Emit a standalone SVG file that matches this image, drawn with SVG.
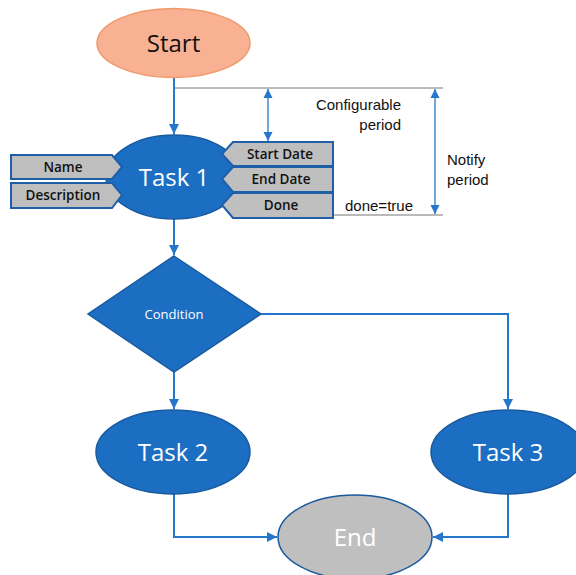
<svg xmlns="http://www.w3.org/2000/svg" width="576" height="575" viewBox="0 0 576 575">
<defs>
<style>
.task{fill:#1B6EC2;stroke:#1A5A9E;stroke-width:1.5}
.tl{font-family:"Open Sans","Liberation Sans",sans-serif;fill:#fff;text-anchor:middle}
.box{fill:#BFBFBF;stroke:#1F5FA8;stroke-width:2}
.bl{font-family:"Open Sans","Liberation Sans",sans-serif;font-size:13.5px;font-weight:600;fill:#111;text-anchor:middle}
.conn{fill:none;stroke:#2577CC;stroke-width:2}
.dim{fill:none;stroke:#2577CC;stroke-width:1.3}
.guide{fill:none;stroke:#777;stroke-width:1}
.note{font-family:"Liberation Sans",Arial,sans-serif;font-size:15px;fill:#111}
</style>
<marker id="ah" viewBox="0 0 10 10" refX="10" refY="5" markerWidth="5" markerHeight="5" orient="auto-start-reverse" markerUnits="strokeWidth">
<path d="M0,0 L10,5 L0,10 z" fill="#2577CC"/>
</marker>
<marker id="ad" viewBox="0 0 10 10" refX="10" refY="5" markerWidth="7" markerHeight="7" orient="auto-start-reverse" markerUnits="strokeWidth">
<path d="M0,0 L10,5 L0,10 z" fill="#2577CC"/>
</marker>
</defs>

<g id="guides">
<line class="guide" x1="174" y1="88" x2="443" y2="88"/>
<line class="guide" x1="322" y1="215" x2="443" y2="215"/>
</g>

<g id="connectors">
<line class="conn" x1="174" y1="78" x2="174" y2="134" marker-end="url(#ah)"/>
<line class="conn" x1="174" y1="219" x2="174" y2="255" marker-end="url(#ah)"/>
<line class="conn" x1="174" y1="372" x2="174" y2="409" marker-end="url(#ah)"/>
<polyline class="conn" points="261,314 508,314 508,409" marker-end="url(#ah)"/>
<polyline class="conn" points="174,494 174,537 277,537" marker-end="url(#ah)"/>
<polyline class="conn" points="508,494 508,537 433,537" marker-end="url(#ah)"/>
<line class="dim" x1="268" y1="89" x2="268" y2="141" marker-start="url(#ad)" marker-end="url(#ad)"/>
<line class="dim" x1="435" y1="89" x2="435" y2="214" marker-start="url(#ad)" marker-end="url(#ad)"/>
</g>

<g id="start">
<ellipse cx="173.5" cy="43" rx="76.5" ry="34.5" fill="#F9B193" stroke="#F09A6C" stroke-width="1.5"/>
<text x="173.5" y="52" font-family="Open Sans, Liberation Sans, sans-serif" font-size="24" fill="#111" text-anchor="middle">Start</text>
</g>

<g id="task1">
<ellipse class="task" cx="174" cy="177" rx="68" ry="42"/>
<text class="tl" x="174" y="186" font-size="24">Task 1</text>
</g>

<g id="name">
<polygon class="box" points="11,155 112,155 122,167 112,179 11,179"/>
<text class="bl" x="63" y="172">Name</text>
</g>
<g id="description">
<polygon class="box" points="11,183 112,183 122,195 112,208 11,208"/>
<text class="bl" x="63" y="200">Description</text>
</g>
<g id="start-date">
<polygon class="box" points="333,142 233,142 222,154 233,166 333,166"/>
<text class="bl" x="280" y="159">Start Date</text>
</g>
<g id="end-date">
<polygon class="box" points="333,167 233,167 222,179 233,192 333,192"/>
<text class="bl" x="281" y="184">End  Date</text>
</g>
<g id="done">
<polygon class="box" points="333,193 233,193 222,205 233,218 333,218"/>
<text class="bl" x="281" y="210">Done</text>
</g>

<g id="labels">
<text class="note" x="401" y="110" text-anchor="end">Configurable</text>
<text class="note" x="401" y="130" text-anchor="end">period</text>
<text class="note" x="447" y="165">Notify</text>
<text class="note" x="447" y="185">period</text>
<text class="note" x="345" y="211">done=true</text>
</g>

<g id="condition">
<polygon class="task" points="174,256 261,314 174,372 88,314"/>
<text class="tl" x="174" y="319" font-size="13">Condition</text>
</g>

<g id="task2">
<ellipse class="task" cx="173" cy="452" rx="77" ry="42"/>
<text class="tl" x="173" y="461" font-size="24">Task 2</text>
</g>

<g id="task3">
<ellipse class="task" cx="508" cy="452" rx="77" ry="42"/>
<text class="tl" x="508" y="461" font-size="24">Task 3</text>
</g>

<g id="end">
<ellipse cx="355" cy="537" rx="77" ry="42" fill="#BFBFBF" stroke="#1A5A9E" stroke-width="1.5"/>
<text class="tl" x="355" y="546" font-size="24">End</text>
</g>
</svg>
